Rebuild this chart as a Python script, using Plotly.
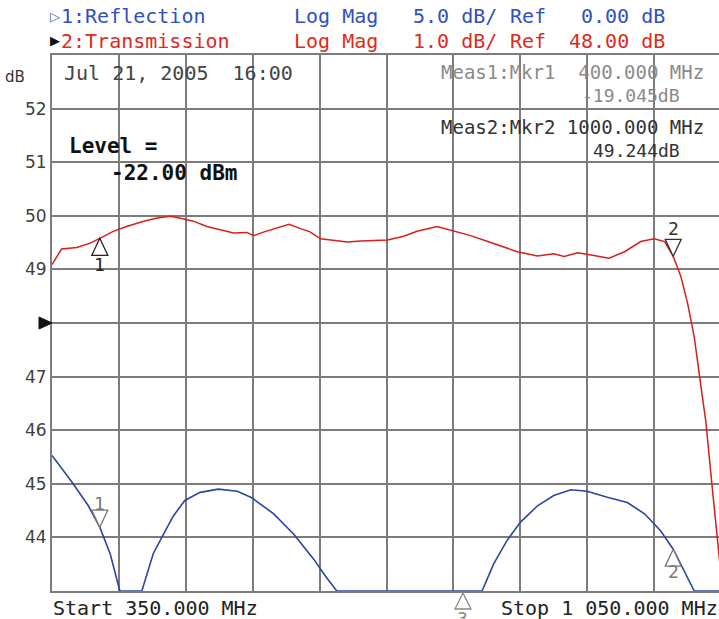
import plotly.graph_objects as go

# ---------------- data ----------------
trans_freq_mhz = [350, 360, 376, 390, 400, 414, 428, 446, 460, 474, 488, 498, 512, 526, 540,
                  554, 561, 572, 586, 598, 610, 620, 631, 645, 659, 673, 701, 718, 732, 753,
                  771, 788, 806, 823, 837, 858, 875, 886, 900, 914, 933, 949, 966, 980, 991,
                  1000, 1008, 1015, 1022, 1031, 1034, 1041, 1048, 1050]
trans_db = [49.09, 49.38, 49.41, 49.49, 49.58, 49.71, 49.80, 49.90, 49.96, 49.99, 49.94, 49.90,
            49.80, 49.74, 49.68, 49.69, 49.63, 49.70, 49.77, 49.84, 49.76, 49.70, 49.57, 49.54,
            49.51, 49.53, 49.55, 49.62, 49.71, 49.80, 49.71, 49.63, 49.52, 49.41, 49.33, 49.25,
            49.29, 49.24, 49.31, 49.27, 49.21, 49.33, 49.52, 49.57, 49.52, 49.244, 48.87, 48.37,
            47.74, 46.56, 46.18, 44.90, 43.65, 43.30]

refl_freq_mhz = [350, 371, 388, 400, 411, 421, 444, 456, 467, 477, 489, 505, 524, 544, 559, 582,
                 603, 624, 636, 648, 800, 812, 826, 840, 858, 875, 893, 910, 931, 952, 970, 987,
                 1000, 1013, 1022, 1050]
refl_db = [-12.35, -14.85, -17.05, -19.045, -21.57, -25, -25, -21.5, -19.65, -18.0, -16.55, -15.8,
           -15.5, -15.7, -16.3, -17.8, -19.7, -22.05, -23.6, -25, -25, -22.5, -20.3, -18.6,
           -17.05, -16.1, -15.55, -15.7, -16.25, -16.75, -17.8, -19.4, -21.1, -23.4, -25, -25]

y_tick_vals = [43, 44, 45, 46, 47, 48, 49, 50, 51, 52, 53]
y_tick_text = ["", "44", "45", "46", "47", "", "49", "50", "51", "52", ""]

marker_freq = [400, 1000]
trans_marker_db = [49.58, 49.244]
refl_marker_db = [-19.045, -21.1]
refl_marker3_freq = 780

start_mhz, stop_mhz = 350, 1050
div_mhz = 70
trans_ref, trans_scale = 48.0, 1.0
refl_ref, refl_scale = 0.0, 5.0

# ---------------- layout geometry ----------------
W, H = 719, 619
L, R, T, B = 52, 0, 55, 28
PW, PH = W - L - R, H - T - B


def px(x):
    return (x - L) / PW


def py(y):
    return (H - B - y) / PH


MONO = "DejaVu Sans Mono"
BLUE_TXT = "#2f4fc4"
RED_TXT = "#dd2a22"

fig = go.Figure()
fig.add_trace(go.Scatter(x=refl_freq_mhz, y=refl_db, mode="lines", yaxis="y2",
                         line=dict(color="#2d45a0", width=1.6), cliponaxis=False,
                         hoverinfo="skip", showlegend=False))
fig.add_trace(go.Scatter(x=trans_freq_mhz, y=trans_db, mode="lines", yaxis="y",
                         line=dict(color="#d81e1e", width=1.5),
                         hoverinfo="skip", showlegend=False))

x_end = start_mhz + PW / 66.9 * div_mhz
grid_col = "#7c7c7c"

fig.update_layout(
    width=W, height=H,
    margin=dict(l=L, r=R, t=T, b=B),
    paper_bgcolor="white", plot_bgcolor="white",
    showlegend=False,
    xaxis=dict(range=[start_mhz, x_end], tick0=start_mhz, dtick=div_mhz,
               showgrid=True, gridcolor=grid_col, gridwidth=2,
               showline=True, linecolor=grid_col, linewidth=2, mirror=True,
               showticklabels=False, ticks="", zeroline=False, fixedrange=True),
    yaxis=dict(range=[43, 53], tickvals=y_tick_vals, ticktext=y_tick_text,
               showgrid=True, gridcolor=grid_col, gridwidth=2,
               showline=True, linecolor=grid_col, linewidth=2,
               ticks="", zeroline=False,
               tickfont=dict(family="DejaVu Sans", size=17, color="#404040")),
    yaxis2=dict(range=[refl_ref - 5 * refl_scale, refl_ref + 5 * refl_scale],
                overlaying="y", visible=False),
)

ann = []


def text(x, y, s, color="#222", size=20, anchor="left", family=MONO):
    ann.append(dict(xref="paper", yref="paper", x=px(x), y=py(y), text=s, showarrow=False,
                    xanchor=anchor, yanchor="middle", borderpad=0,
                    font=dict(family=family, size=size, color=color)))


# header rows
text(49, 16, "▷", color="#5060a8", size=13, family="DejaVu Sans")
text(60, 16, "1:Reflection", BLUE_TXT)
text(293, 16, "Log Mag", BLUE_TXT)
text(412, 16, f"{refl_scale:.1f} dB/", BLUE_TXT)
text(509, 16, "Ref", BLUE_TXT)
text(666, 16, f"{refl_ref:.2f} dB", BLUE_TXT, anchor="right")
text(49, 41, "▶", color="#111", size=13, family="DejaVu Sans")
text(60, 41, "2:Transmission", RED_TXT)
text(293, 41, "Log Mag", RED_TXT)
text(412, 41, f"{trans_scale:.1f} dB/", RED_TXT)
text(509, 41, "Ref", RED_TXT)
text(666, 41, f"{trans_ref:.2f} dB", RED_TXT, anchor="right")

text(15, 77, "dB", color="#333", size=15, anchor="center", family="DejaVu Sans")
text(63, 73, "Jul 21, 2005  16:00", color="#444")
text(68, 146, "<b>Level =</b>", color="#111", size=21)
text(110, 173, "<b>-22.00 dBm</b>", color="#111", size=21)

text(705, 72, "Meas1:Mkr1  400.000 MHz", color="#8a8a8a", size=19, anchor="right")
text(681, 95, f"{refl_marker_db[0]:.3f}dB", color="#8a8a8a", size=18, anchor="right")
text(705, 127, "Meas2:Mkr2 1000.000 MHz", color="#333", size=19, anchor="right")
text(681, 150, f"{trans_marker_db[1]:.3f}dB", color="#333", size=18, anchor="right")

text(52, 608, f"Start {start_mhz:.3f} MHz", color="#222")
text(500, 608, "Stop 1 050.000 MHz", color="#222")

shapes = []
UP = "M0,0 L-8,-17 L8,-17 Z"     # tip at point, triangle below (points up)
DOWN = "M0,0 L-8,17 L8,17 Z"     # tip at point, triangle above (points down)


def marker(f, v, yref, path, label, dy, color):
    shapes.append(dict(type="path", xref="x", yref=yref, xsizemode="pixel", ysizemode="pixel",
                       xanchor=f, yanchor=v, path=path, fillcolor="white",
                       line=dict(color=color, width=1.3)))
    ann.append(dict(xref="x", yref=yref, x=f, y=v, yshift=dy, text=label, showarrow=False,
                    xanchor="center", yanchor="middle",
                    font=dict(family=MONO, size=18, color=color)))


marker(marker_freq[0], trans_marker_db[0], "y", UP, "1", -26, "#222")
marker(marker_freq[1], trans_marker_db[1], "y", DOWN, "2", 28, "#333")
marker(marker_freq[0], refl_marker_db[0], "y2", DOWN, "1", 24, "#777")
marker(marker_freq[1], refl_marker_db[1], "y2", UP, "2", -22, "#777")

# marker 3 on reflection is below the display: drawn under the bottom edge
shapes.append(dict(type="path", xref="x", yref="paper", xsizemode="pixel", ysizemode="pixel",
                   xanchor=refl_marker3_freq, yanchor=0, path="M0,-2 L-8,-18 L8,-18 Z",
                   fillcolor="white", line=dict(color="#888", width=1.3)))
ann.append(dict(xref="x", yref="paper", x=refl_marker3_freq, y=0, yshift=-27, text="3",
                showarrow=False, xanchor="center", yanchor="middle",
                font=dict(family=MONO, size=18, color="#888")))

# reference level pointer for the active trace
shapes.append(dict(type="path", xref="paper", yref="y", xsizemode="pixel", ysizemode="pixel",
                   xanchor=0, yanchor=trans_ref, path="M-13,6 L0,0 L-13,-6 Z",
                   fillcolor="#111", line=dict(color="#111", width=1)))

fig.update_layout(annotations=ann, shapes=shapes)
fig.write_html("out.html", config={"displayModeBar": False},
               post_script="document.body.style.margin='0';document.body.style.overflow='hidden';")
